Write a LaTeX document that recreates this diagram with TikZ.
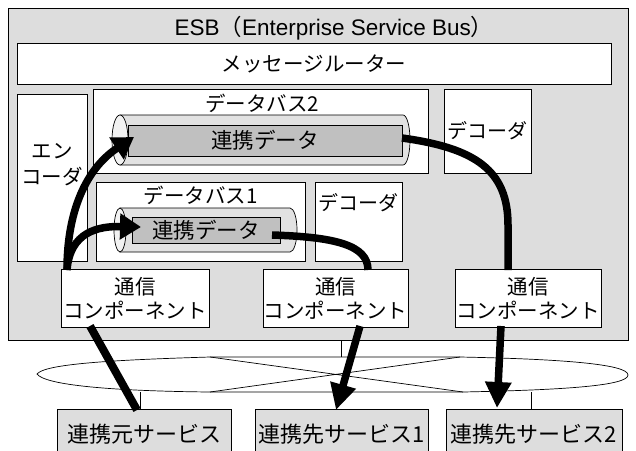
\documentclass[tikz,border=0pt]{standalone}
\usepackage{fontspec}
\setmainfont{Noto Sans CJK JP}
\newfontfamily\lat{Liberation Sans}
\usetikzlibrary{arrows.meta}
\definecolor{esbgray}{RGB}{221,221,221}
\definecolor{datagray}{RGB}{192,192,192}
\definecolor{cylgray}{RGB}{226,226,226}
\definecolor{capgray}{RGB}{242,242,242}
\begin{document}
\begin{tikzpicture}[x=1pt,y=-1pt,
  box/.style={draw=black, line width=0.8pt, fill=white, inner sep=0pt, outer sep=0pt, anchor=north west, align=center, font=\fontsize{20.5}{24}\selectfont},
  txt/.style={inner sep=0pt, align=center, font=\fontsize{20.5}{26}\selectfont},
  svc/.style={box, fill=esbgray, font=\fontsize{22}{26}\selectfont},
  flow/.style={draw=black, line width=7.5pt},
  head/.style={-{Triangle[length=21pt,width=25pt]}},
  bighead/.style={-{Triangle[length=26pt,width=25pt]}},
  thinline/.style={draw=black, line width=0.7pt},
  cylbody/.style={draw=black, line width=0.7pt, fill=cylgray},
  cylcap/.style={draw=black, line width=0.7pt, fill=capgray},
  datarect/.style={draw=black, line width=0.8pt, fill=datagray, inner sep=0pt, outer sep=0pt, font=\fontsize{21.5}{25}\selectfont}]
\useasboundingbox (0,0) rectangle (636,450);
\fill[white] (0,0) rectangle (636,450);

% ESB frame
\node[box, fill=esbgray, minimum width=620pt, minimum height=332pt] (esb) at (8,8) {};
\node[txt, font=\fontsize{22.5}{26}\selectfont] (esbt) at (334,28) {{\lat ESB}（{\lat Enterprise Service Bus}）};
\node[box, minimum width=594pt, minimum height=41pt] (router) at (17,43) {メッセージルーター};

% encoder / buses / decoders
\node[box, minimum width=70pt, minimum height=167pt] (enc) at (17,94) {};
\node[txt] (enct) at (52,165) {エン\\コーダ};
\node[box, minimum width=335pt, minimum height=84pt] (bus2) at (93,89) {};
\node[txt] (bus2t) at (262,103) {データバス2};
\node[box, minimum width=87pt, minimum height=84pt] (dec2) at (444,89) {};
\node[txt, font=\fontsize{20}{24}\selectfont] (dec2t) at (487.5,131) {デコーダ};
\node[box, minimum width=209pt, minimum height=79pt] (bus1) at (96,182) {};
\node[txt] (bus1t) at (200.5,195) {データバス1};
\node[box, minimum width=87pt, minimum height=79pt] (dec1) at (315,182) {};
\node[txt, font=\fontsize{20}{24}\selectfont] (dec1t) at (358.5,203) {デコーダ};

% cylinder 2
\draw[cylbody] (120,115) -- (403,115) arc[start angle=90, end angle=-90, x radius=7pt, y radius=25pt] -- (120,165) -- cycle;
\draw[cylcap] (120,140) ellipse[x radius=8pt, y radius=25pt];
\node[datarect, anchor=north west, minimum width=274pt, minimum height=31pt] (data2) at (128,125) {連携データ};

% cylinder 1
\draw[cylbody] (120,208) -- (290,208) arc[start angle=90, end angle=-90, x radius=7pt, y radius=22pt] -- (120,252) -- cycle;
\draw[cylcap] (120,230) ellipse[x radius=6pt, y radius=22pt];
\node[datarect, anchor=north west, minimum width=148pt, minimum height=26pt] (data1) at (132,217) {連携データ};

% communication components
\node[box, minimum width=148pt, minimum height=58pt] (com1) at (61,269) {通信\\コンポーネント};
\node[box, minimum width=145pt, minimum height=58pt] (com2) at (263,269) {通信\\コンポーネント};
\node[box, minimum width=146pt, minimum height=58pt] (com3) at (455,269) {通信\\コンポーネント};

% services
\node[svc, minimum width=174pt, minimum height=51pt] (svc1) at (57,409) {連携元サービス};
\node[svc, minimum width=173pt, minimum height=51pt] (svc2) at (255,409) {連携先サービス1};
\node[svc, minimum width=176pt, minimum height=51pt] (svc3) at (446,409) {連携先サービス2};

% network cloud
\coordinate (esbb) at (341,340);
\coordinate (cloudt) at (341,357);
\coordinate (cloudb1) at (140,392);
\coordinate (svc1t) at (140,409);
\coordinate (cloudb3) at (531,392);
\coordinate (svc3t) at (531,409);
\draw[thinline] (esbb) -- (cloudt);
\draw[thinline] (cloudb1) -- (svc1t);
\draw[thinline] (cloudb3) -- (svc3t);
\draw[thinline, fill=white] (37,374) .. controls (45,364) and (110,360) .. (210,357) -- (460,357)
  .. controls (560,359) and (628,364) .. (628,375) .. controls (628,386) and (560,390) .. (463,392)
  -- (210,392) .. controls (110,391) and (45,385) .. (37,374) -- cycle;
\draw[thinline] (210,357) -- (463,392) (210,392) -- (460,357);

% flows
\coordinate (a1s) at (67,270);
\coordinate (a1e) at (134,137);
\coordinate (a2e) at (141,227);
\coordinate (a3s) at (272,235);
\coordinate (a3e) at (368,270);
\coordinate (a4s) at (402,138);
\coordinate (a4e) at (508,270);
\draw[flow, head] (a1s) .. controls (67,205) and (90,166) .. (a1e);
\draw[flow, head] (a1s) .. controls (70,232) and (98,226) .. (a2e);
\draw[flow] (a3s) .. controls (335,237) and (368,245) .. (a3e);
\draw[flow] (a4s) .. controls (475,148) and (508,170) .. (508,225) -- (a4e);

\coordinate (b1s) at (90,326);
\coordinate (b1e) at (137,410);
\coordinate (b2s) at (360,326);
\coordinate (b2e) at (336,410);
\coordinate (b3s) at (501,326);
\coordinate (b3e) at (497,408);
\draw[flow, line width=8pt] (b1s) -- (b1e);
\draw[flow, bighead] (b2s) -- (b2e);
\draw[flow, bighead] (b3s) -- (b3e);
\end{tikzpicture}
\end{document}
